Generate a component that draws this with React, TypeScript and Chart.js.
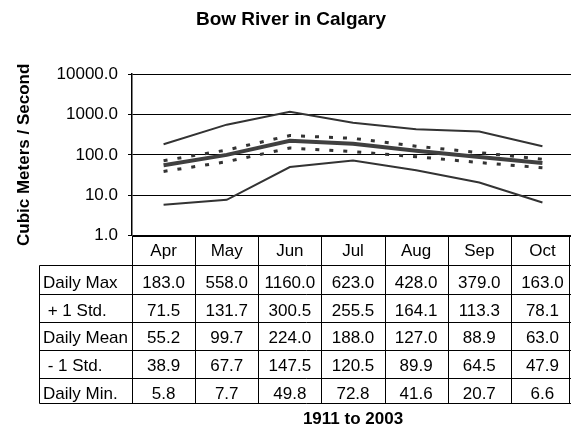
import React, { useEffect, useRef } from "react";
import { Chart, registerables } from "chart.js";

Chart.register(...registerables);

const months = ["Apr", "May", "Jun", "Jul", "Aug", "Sep", "Oct"];
const dailyMax = [183.0, 558.0, 1160.0, 623.0, 428.0, 379.0, 163.0];
const plusStd = [71.5, 131.7, 300.5, 255.5, 164.1, 113.3, 78.1];
const dailyMean = [55.2, 99.7, 224.0, 188.0, 127.0, 88.9, 63.0];
const minusStd = [38.9, 67.7, 147.5, 120.5, 89.9, 64.5, 47.9];
const dailyMin = [5.8, 7.7, 49.8, 72.8, 41.6, 20.7, 6.6];
const rowLabels = ["Daily Max", " + 1 Std.", "Daily Mean", " - 1 Std.", "Daily Min."];
const yTickValues = [1, 10, 100, 1000, 10000];
const chartTitle = "Bow River in Calgary";
const yTitle = "Cubic Meters / Second";
const xTitle = "1911 to 2003";

const FONT = "'Liberation Sans', Arial, Helvetica, sans-serif";

const tablePlugin = {
  id: "dataTable",
  afterDraw(chart: any) {
    const { ctx, chartArea } = chart;
    const xs = chart.scales.x;
    const left = chartArea.left;
    const right = chartArea.right;
    const top = chartArea.bottom;
    const n = months.length;
    const band = (right - left) / n;
    const tableLeft = 39.5;
    const visibleRight = 569.5;
    const lines = [0, 29.3, 58.3, 86.6, 114.3, 142.6, 167].map((o) => Math.round(top + o) + 0.5);
    const baselines = [20.3, 52, 80, 107.6, 135.3, 163.3].map((o) => top + o);
    const rows = [dailyMax, plusStd, dailyMean, minusStd, dailyMin];

    ctx.save();
    ctx.strokeStyle = "#000";
    ctx.lineWidth = 1;
    ctx.beginPath();
    ctx.moveTo(left, lines[0]);
    ctx.lineTo(right, lines[0]);
    for (let i = 1; i < lines.length; i++) {
      ctx.moveTo(tableLeft, lines[i]);
      ctx.lineTo(right, lines[i]);
    }
    for (let i = 0; i <= n; i++) {
      const x = Math.round(left + i * band) + 0.5;
      ctx.moveTo(x, lines[0]);
      ctx.lineTo(x, lines[lines.length - 1]);
    }
    ctx.moveTo(tableLeft, lines[1]);
    ctx.lineTo(tableLeft, lines[lines.length - 1]);
    ctx.moveTo(visibleRight, lines[0]);
    ctx.lineTo(visibleRight, lines[lines.length - 1]);
    ctx.stroke();

    ctx.fillStyle = "#000";
    ctx.font = "17px " + FONT;
    ctx.textBaseline = "alphabetic";
    ctx.textAlign = "center";
    months.forEach((m, i) => {
      ctx.fillText(m, xs.getPixelForValue(i), baselines[0]);
    });
    rows.forEach((vals, r) => {
      vals.forEach((v, i) => {
        ctx.fillText(v.toFixed(1), xs.getPixelForValue(i), baselines[r + 1]);
      });
    });
    ctx.textAlign = "left";
    rowLabels.forEach((lab, r) => {
      ctx.fillText(lab, tableLeft + 3.5, baselines[r + 1]);
    });
    ctx.restore();
  },
};

export default function App() {
  const ref = useRef<HTMLCanvasElement | null>(null);

  useEffect(() => {
    if (!ref.current) return;
    Chart.defaults.font.family = FONT;
    Chart.defaults.color = "#000";
    const solid = { pointRadius: 0, tension: 0, fill: false };
    const chart = new Chart(ref.current, {
      type: "line",
      data: {
        labels: months,
        datasets: [
          { ...solid, label: "Daily Mean", data: dailyMean, borderColor: "#404040", borderWidth: 4 },
          { ...solid, label: "Daily Max", data: dailyMax, borderColor: "#333333", borderWidth: 2 },
          { ...solid, label: "+ 1 Std.", data: plusStd, borderColor: "#333333", borderWidth: 3, borderDash: [4, 10], borderCapStyle: "butt" },
          { ...solid, label: "- 1 Std.", data: minusStd, borderColor: "#333333", borderWidth: 3, borderDash: [4, 10], borderCapStyle: "butt" },
          { ...solid, label: "Daily Min.", data: dailyMin, borderColor: "#333333", borderWidth: 2 },
        ],
      },
      options: {
        animation: false,
        responsive: false,
        layout: { padding: { left: 8, right: 6, top: 0, bottom: 0 } },
        plugins: {
          legend: { display: false },
          tooltip: { enabled: false },
          title: {
            display: true,
            text: chartTitle,
            color: "#000",
            font: { size: 19, weight: "bold", family: FONT },
            padding: { top: 8, bottom: 43.2 },
          },
        },
        scales: {
          x: {
            type: "category",
            offset: true,
            grid: { display: false },
            border: { display: false },
            ticks: { display: false },
            title: {
              display: true,
              text: xTitle,
              color: "#000",
              font: { size: 17, weight: "bold", family: FONT, lineHeight: 1 },
              padding: { top: 0, bottom: 0 },
            },
            afterFit: (s: any) => {
              s.height = 192.3;
            },
          },
          y: {
            type: "logarithmic",
            min: 1,
            max: 10000,
            border: { display: true, color: "#000", width: 1.5 },
            grid: { color: "#000", lineWidth: 1, tickLength: 4, drawTicks: true },
            ticks: {
              color: "#000",
              font: { size: 17, family: FONT },
              padding: 10,
              callback: (v: any) => Number(v).toFixed(1),
            },
            afterBuildTicks: (s: any) => {
              s.ticks = yTickValues.map((v) => ({ value: v }));
            },
            title: {
              display: true,
              text: yTitle,
              color: "#000",
              font: { size: 17, weight: "bold", family: FONT },
              padding: { top: 6, bottom: 0 },
            },
            afterFit: (s: any) => {
              s.width = 124;
            },
          },
        },
      },
      plugins: [tablePlugin],
    } as any);
    return () => chart.destroy();
  }, []);

  return (
    <div
      style={{
        position: "fixed",
        left: 0,
        top: 0,
        width: 571,
        height: 428,
        overflow: "hidden",
        background: "#fff",
      }}
    >
      <canvas ref={ref} width={580} height={428} style={{ display: "block", width: 580, height: 428 }} />
    </div>
  );
}
